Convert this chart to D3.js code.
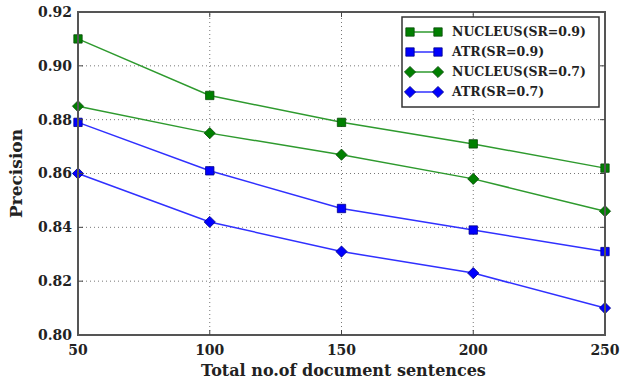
<!DOCTYPE html>
<html>
<head>
<meta charset="utf-8">
<script src="https://cdn.jsdelivr.net/npm/d3@7"></script>
<style>
  body { margin: 0; background: #fff; }
  text { font-family: "DejaVu Serif", "Liberation Serif", serif; font-weight: bold; fill: #222; }
</style>
</head>
<body>
<div id="chart"></div>
<script>
const sentences = [50, 100, 150, 200, 250];
const nucleus09 = [0.910, 0.889, 0.879, 0.871, 0.862];
const atr09 = [0.879, 0.861, 0.847, 0.839, 0.831];
const nucleus07 = [0.885, 0.875, 0.867, 0.858, 0.846];
const atr07 = [0.860, 0.842, 0.831, 0.823, 0.810];
const seriesNames = ["NUCLEUS(SR=0.9)", "ATR(SR=0.9)", "NUCLEUS(SR=0.7)", "ATR(SR=0.7)"];
const yTicks = [0.80, 0.82, 0.84, 0.86, 0.88, 0.90, 0.92];

const width = 621;
const height = 383;
const margin = { top: 12, right: 16, bottom: 48, left: 78 };

const series = [
    { name: seriesNames[0], values: nucleus09, color: "#008000", line: "#2e9a2e", marker: "square" },
    { name: seriesNames[1], values: atr09, color: "#0000ff", line: "#3030ff", marker: "square" },
    { name: seriesNames[2], values: nucleus07, color: "#008000", line: "#2e9a2e", marker: "diamond" },
    { name: seriesNames[3], values: atr07, color: "#0000ff", line: "#3030ff", marker: "diamond" },
];

const svg = d3.select("#chart")
    .append("svg")
    .attr("width", width)
    .attr("height", height);

const x = d3.scaleLinear()
    .domain([50, 250])
    .range([margin.left, width - margin.right]);

const y = d3.scaleLinear()
    .domain([0.80, 0.92])
    .range([height - margin.bottom, margin.top]);

// Grid (dotted)
const grid = svg.append("g");
grid.selectAll(".gx")
    .data(sentences.slice(1, -1))
    .enter().append("line")
    .attr("x1", d => x(d)).attr("x2", d => x(d))
    .attr("y1", y(0.80)).attr("y2", y(0.92))
    .attr("stroke", "#777").attr("stroke-width", 1)
    .attr("stroke-dasharray", "1,3");
grid.selectAll(".gy")
    .data(yTicks.slice(1, -1))
    .enter().append("line")
    .attr("x1", x(50)).attr("x2", x(250))
    .attr("y1", d => y(d)).attr("y2", d => y(d))
    .attr("stroke", "#777").attr("stroke-width", 1)
    .attr("stroke-dasharray", "1,3");

// Lines and markers
const line = d3.line()
    .x((d, i) => x(sentences[i]))
    .y(d => y(d));

const markerPath = s => d3.symbol().type(d3.symbolSquare).size(s.marker === "square" ? 70 : 62)();
const markerRot = s => s.marker === "diamond" ? " rotate(45)" : "";
const edge = s => s.color === "#008000" ? "#0a4a0a" : "#00008a";

series.forEach(s => {
    svg.append("path")
        .datum(s.values)
        .attr("d", line)
        .attr("fill", "none")
        .attr("stroke", s.line)
        .attr("stroke-width", 1.5);

    svg.append("g").selectAll("path")
        .data(s.values)
        .enter().append("path")
        .attr("d", markerPath(s))
        .attr("transform", (d, i) => `translate(${x(sentences[i])},${y(d)})` + markerRot(s))
        .attr("fill", s.color)
        .attr("stroke", edge(s))
        .attr("stroke-width", 0.8);
});

// Axes frame
svg.append("rect")
    .attr("x", x(50)).attr("y", y(0.92))
    .attr("width", x(250) - x(50))
    .attr("height", y(0.80) - y(0.92))
    .attr("fill", "none")
    .attr("stroke", "#555")
    .attr("stroke-width", 2);

// Ticks (inward on all four sides)
const tickLen = 5;
sentences.slice(1, -1).forEach(d => {
    svg.append("line").attr("x1", x(d)).attr("x2", x(d))
        .attr("y1", y(0.80)).attr("y2", y(0.80) - tickLen)
        .attr("stroke", "#444").attr("stroke-width", 1);
    svg.append("line").attr("x1", x(d)).attr("x2", x(d))
        .attr("y1", y(0.92)).attr("y2", y(0.92) + tickLen)
        .attr("stroke", "#444").attr("stroke-width", 1);
});
yTicks.slice(1, -1).forEach(d => {
    svg.append("line").attr("x1", x(50)).attr("x2", x(50) + tickLen)
        .attr("y1", y(d)).attr("y2", y(d))
        .attr("stroke", "#444").attr("stroke-width", 1);
    svg.append("line").attr("x1", x(250)).attr("x2", x(250) - tickLen)
        .attr("y1", y(d)).attr("y2", y(d))
        .attr("stroke", "#444").attr("stroke-width", 1);
});

// Tick labels
svg.append("g").selectAll("text")
    .data(yTicks)
    .enter().append("text")
    .attr("x", x(50) - 6)
    .attr("y", d => y(d))
    .attr("dy", "0.35em")
    .attr("text-anchor", "end")
    .style("font-size", "14px")
    .text(d => d.toFixed(2));

svg.append("g").selectAll("text")
    .data(sentences)
    .enter().append("text")
    .attr("x", d => x(d))
    .attr("y", y(0.80) + 20)
    .attr("text-anchor", "middle")
    .style("font-size", "14px")
    .text(d => d);

// Axis titles
svg.append("text")
    .attr("x", (x(50) + x(250)) / 2 + 2)
    .attr("y", 376)
    .attr("text-anchor", "middle")
    .style("font-size", "16px")
    .text("Total no.of document sentences");

svg.append("text")
    .attr("transform", `translate(22,${(y(0.80) + y(0.92)) / 2}) rotate(-90)`)
    .attr("text-anchor", "middle")
    .style("font-size", "17px")
    .text("Precision");

// Legend
const legend = svg.append("g").attr("transform", "translate(402,17)");
legend.append("rect")
    .attr("width", 197).attr("height", 90)
    .attr("fill", "#fff").attr("stroke", "#333").attr("stroke-width", 1.5);

series.forEach((s, i) => {
    const ly = 15 + i * 20;
    legend.append("line")
        .attr("x1", 6).attr("x2", 38)
        .attr("y1", ly).attr("y2", ly)
        .attr("stroke", s.line).attr("stroke-width", 1.5);
    [8, 36].forEach(mx => {
        legend.append("path")
            .attr("d", markerPath(s))
            .attr("transform", `translate(${mx},${ly})` + markerRot(s))
            .attr("fill", s.color)
            .attr("stroke", edge(s))
            .attr("stroke-width", 0.8);
    });
    legend.append("text")
        .attr("x", 50).attr("y", ly)
        .attr("dy", "0.35em")
        .style("font-size", "12.5px")
        .text(s.name);
});
</script>
</body>
</html>
